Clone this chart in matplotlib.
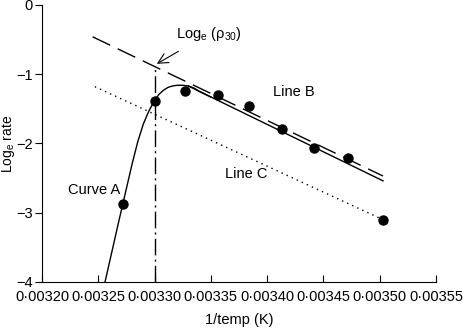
import matplotlib.pyplot as plt
from matplotlib.ticker import FixedLocator

plt.rcParams['font.family'] = ['Liberation Sans', 'DejaVu Sans']
plt.rcParams['font.size'] = 10.5

# measured points
pt_x = [0.003272, 0.003300, 0.003327, 0.003356, 0.003384, 0.003413, 0.003442, 0.003472, 0.003503]
pt_y = [-2.87, -1.39, -1.24, -1.30, -1.46, -1.79, -2.07, -2.21, -3.10]

# curve A
curve_x = [0.003256, 0.003262, 0.003268, 0.003274, 0.003280, 0.003285, 0.003290,
           0.003295, 0.003300, 0.003304, 0.003308, 0.003312, 0.003316, 0.003320,
           0.003325, 0.003330, 0.003335, 0.003340, 0.003345, 0.003350]
curve_y = [-4.00, -3.57, -3.14, -2.72, -2.30, -1.98, -1.72,
           -1.53, -1.38, -1.29, -1.23, -1.19, -1.17, -1.16,
           -1.16, -1.17, -1.20, -1.25, -1.29, -1.33]

# straight lines (end points)
lineB_x = [0.003330, 0.003503]
lineB_y = [-1.17, -2.54]
dash_x = [0.003245, 0.003503]
dash_y = [-0.46, -2.47]
lineC_x = [0.003247, 0.003503]
lineC_y = [-1.18, -3.10]
vline_x = 0.00330
vline_top = -0.88

xticks = [0.00320, 0.00325, 0.00330, 0.00335, 0.00340, 0.00345, 0.00350, 0.00355]
yticks = [0, -1, -2, -3, -4]

fig = plt.figure(figsize=(4.64, 3.30), dpi=100)
ax = fig.add_axes([0.0905, 0.1455, 0.849, 0.8395])

ax.plot(curve_x, curve_y, color='black', lw=1)
ax.plot(lineB_x, lineB_y, color='black', lw=1)
ax.plot(dash_x, dash_y, color='black', lw=1, dashes=(14, 6))
ax.plot(lineC_x, lineC_y, color='black', lw=1, linestyle=(0, (1, 3)))
ax.plot([vline_x, vline_x], [-4, vline_top], color='black', lw=1, dashes=(12, 3, 1.5, 3))
ax.plot(pt_x, pt_y, 'o', color='black', markersize=6.5)

ax.text(0.003424, -1.26, 'Line B', ha='center', va='center')
ax.text(0.003381, -2.44, 'Line C', ha='center', va='center')
ax.text(0.003246, -2.67, 'Curve A', ha='center', va='center')
ax.annotate(r'Log$_\mathregular{e}$ ($\mathregular{\rho_{30}}$)', xy=(0.003302, -0.85),
            xytext=(0.003348, -0.42), ha='center', va='center',
            arrowprops=dict(arrowstyle='->', color='black', lw=0.8, shrinkA=8, shrinkB=0,
                            mutation_scale=18))

ax.set_xlim(0.00320, 0.00355)
ax.set_ylim(-4, 0)
ax.xaxis.set_major_locator(FixedLocator(xticks))
ax.set_xticklabels(['{:.5f}'.format(v).replace('.', '\u00b7') for v in xticks])
ax.yaxis.set_major_locator(FixedLocator(yticks))
ax.set_yticklabels(['0' if v == 0 else '\u2212{}'.format(-v) for v in yticks])
ax.tick_params(axis='x', direction='in', length=5, pad=6)
ax.tick_params(axis='y', direction='out', length=5, pad=1.5)
ax.spines['top'].set_visible(False)
ax.spines['right'].set_visible(False)
ax.set_xlabel('1/temp (K)', labelpad=6)
ax.set_ylabel(r'Log$_\mathregular{e}$ rate', fontsize=10)
ax.yaxis.set_label_coords(-0.064, 0.5)

fig.savefig('out.png', dpi=100)
